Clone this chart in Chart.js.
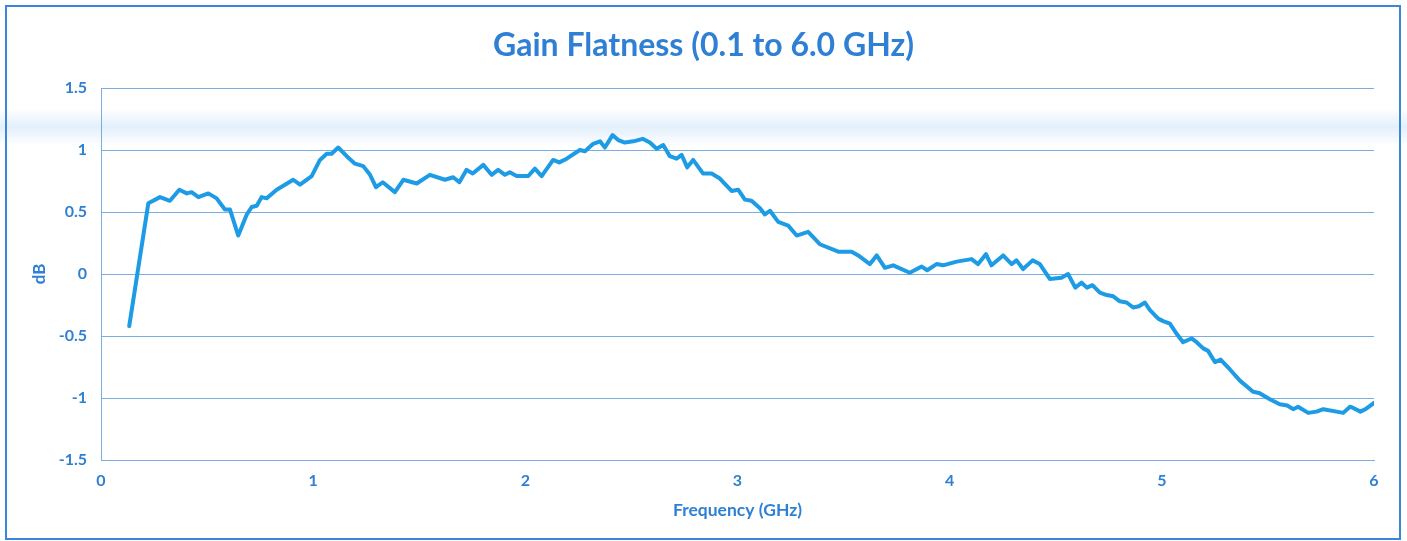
<!DOCTYPE html>
<html>
<head>
<meta charset="utf-8">
<title>Gain Flatness</title>
<script src="https://cdn.jsdelivr.net/npm/chart.js@4.4.1/dist/chart.umd.min.js"></script>
<style>
  html, body { margin: 0; padding: 0; background: #fff; overflow: hidden; }
  #band { position: absolute; left: 0; top: 108px; width: 1407px; height: 38px;
    background: linear-gradient(to bottom, rgba(225,239,251,0), rgba(222,237,250,0.85) 50%, rgba(225,239,251,0)); }
  #frame { position: absolute; left: 5px; top: 5px; width: 1396px; height: 535px;
    border: 2px solid #3a86d8; box-sizing: border-box; }
  #wrap { position: absolute; left: 0; top: 0; width: 1407px; height: 541px; }
</style>
</head>
<body>
<div id="band"></div>
<div id="frame"></div>
<div id="wrap"><canvas id="chart" width="1407" height="541"></canvas></div>
<script>
// Gain flatness, 0.1 to 6.0 GHz

const freqGHz = [
  0.133, 0.223, 0.278, 0.325, 0.369, 0.404, 0.427, 0.459, 0.506, 0.545,
  0.584, 0.608, 0.647, 0.687, 0.710, 0.734, 0.757, 0.781, 0.828, 0.906,
  0.938, 0.993, 1.032, 1.064, 1.087, 1.118, 1.158, 1.197, 1.236, 1.268,
  1.296, 1.328, 1.385, 1.425, 1.488, 1.550, 1.621, 1.660, 1.689, 1.723,
  1.752, 1.802, 1.841, 1.872, 1.904, 1.927, 1.959, 2.014, 2.045, 2.077,
  2.131, 2.160, 2.195, 2.257, 2.281, 2.320, 2.352, 2.375, 2.411, 2.438,
  2.469, 2.509, 2.553, 2.587, 2.619, 2.650, 2.681, 2.713, 2.737, 2.763,
  2.791, 2.838, 2.878, 2.917, 2.972, 3.003, 3.035, 3.066, 3.106, 3.129,
  3.153, 3.192, 3.239, 3.279, 3.333, 3.388, 3.475, 3.538, 3.569, 3.624,
  3.656, 3.695, 3.734, 3.812, 3.868, 3.894, 3.938, 3.969, 4.033, 4.103,
  4.134, 4.171, 4.197, 4.252, 4.292, 4.315, 4.346, 4.391, 4.425, 4.472,
  4.527, 4.558, 4.592, 4.622, 4.647, 4.673, 4.708, 4.740, 4.771, 4.802,
  4.834, 4.865, 4.892, 4.920, 4.943, 4.983, 5.006, 5.038, 5.069, 5.100,
  5.140, 5.164, 5.195, 5.218, 5.250, 5.277, 5.321, 5.368, 5.430, 5.459,
  5.509, 5.556, 5.591, 5.619, 5.642, 5.690, 5.729, 5.761, 5.824, 5.855,
  5.887, 5.902, 5.936, 5.960, 6.000
];

const gainDb = [
  -0.42, 0.57, 0.62, 0.59, 0.68, 0.65, 0.66, 0.62, 0.65, 0.61,
  0.52, 0.52, 0.31, 0.48, 0.54, 0.55, 0.62, 0.61, 0.68, 0.76,
  0.72, 0.79, 0.92, 0.97, 0.97, 1.02, 0.95, 0.89, 0.87, 0.80,
  0.70, 0.74, 0.66, 0.76, 0.73, 0.80, 0.76, 0.78, 0.74, 0.84,
  0.81, 0.88, 0.80, 0.84, 0.80, 0.82, 0.79, 0.79, 0.85, 0.79,
  0.92, 0.90, 0.93, 1.00, 0.99, 1.05, 1.07, 1.02, 1.12, 1.08,
  1.06, 1.07, 1.09, 1.06, 1.01, 1.04, 0.95, 0.93, 0.96, 0.86,
  0.92, 0.81, 0.81, 0.77, 0.67, 0.68, 0.60, 0.59, 0.53, 0.48,
  0.51, 0.42, 0.39, 0.31, 0.34, 0.24, 0.18, 0.18, 0.15, 0.08,
  0.15, 0.05, 0.07, 0.01, 0.06, 0.03, 0.08, 0.07, 0.10, 0.12,
  0.08, 0.16, 0.07, 0.15, 0.08, 0.11, 0.04, 0.11, 0.08, -0.04,
  -0.03, 0.00, -0.11, -0.07, -0.11, -0.09, -0.15, -0.17, -0.18, -0.22,
  -0.23, -0.27, -0.26, -0.23, -0.29, -0.36, -0.38, -0.40, -0.48, -0.55,
  -0.52, -0.55, -0.60, -0.62, -0.71, -0.69, -0.77, -0.86, -0.95, -0.96,
  -1.01, -1.05, -1.06, -1.09, -1.07, -1.12, -1.11, -1.09, -1.11, -1.12,
  -1.07, -1.08, -1.11, -1.09, -1.04
];

const xTicks = [0, 1, 2, 3, 4, 5, 6];
const yTicks = [-1.5, -1, -0.5, 0, 0.5, 1, 1.5];

const titleText = 'Gain Flatness (0.1 to 6.0 GHz)';
const xTitle = 'Frequency (GHz)';
const yTitle = 'dB';

// ---------- Styles ----------
const blueText = '#2f7fd4';
const lineBlue = '#1e9be5';
const gridBlue = '#7aaee0';
const fontFam = 'Lato, "Open Sans", sans-serif';

const points = freqGHz.map((f, i) => ({ x: f, y: gainDb[i] }));

new Chart(document.getElementById('chart'), {
  type: 'line',
  data: {
    datasets: [{
      label: 'Gain',
      data: points,
      borderColor: lineBlue,
      borderWidth: 4,
      pointRadius: 0,
      tension: 0,
      borderJoinStyle: 'round',
      borderCapStyle: 'round',
      fill: false
    }]
  },
  options: {
    responsive: false,
    animation: false,
    // symmetric side padding so the title sits at the canvas centre
    layout: { padding: { left: 33, right: 33, top: 0, bottom: 0 } },
    plugins: {
      legend: { display: false },
      tooltip: { enabled: false },
      title: {
        display: true,
        text: titleText,
        color: blueText,
        font: { family: fontFam, size: 32, weight: 'bold', lineHeight: 1.2 },
        padding: { top: 26.4, bottom: 23.2 }
      }
    },
    scales: {
      x: {
        type: 'linear',
        min: 0, max: 6,
        afterBuildTicks: s => { s.ticks = xTicks.map(v => ({ value: v })); },
        afterFit: s => { s.height = 81; },
        border: { display: true, color: gridBlue, width: 1 },
        grid: { display: false, drawTicks: false },
        ticks: {
          color: blueText,
          padding: 11,
          maxRotation: 0,
          font: { family: fontFam, size: 16, weight: 'bold' },
          callback: v => String(v)
        },
        title: {
          display: true,
          text: xTitle,
          color: blueText,
          font: { family: fontFam, size: 17.5, weight: 'bold', lineHeight: 1.2 },
          padding: { top: 0, bottom: 20.5 }
        }
      },
      y: {
        type: 'linear',
        min: -1.5, max: 1.5,
        afterBuildTicks: s => { s.ticks = yTicks.map(v => ({ value: v })); },
        afterFit: s => { s.width = 68; },
        border: { display: true, color: gridBlue, width: 1 },
        grid: { color: gridBlue, lineWidth: 1, drawTicks: false },
        ticks: {
          color: blueText,
          padding: 14,
          font: { family: fontFam, size: 16, weight: 'bold' },
          callback: v => String(v)
        },
        title: {
          display: true,
          text: yTitle,
          color: blueText,
          font: { family: fontFam, size: 17, weight: 'bold', lineHeight: 1.2 },
          padding: { top: -3.2, bottom: 0 }
        }
      }
    }
  }
});
</script>
</body>
</html>
